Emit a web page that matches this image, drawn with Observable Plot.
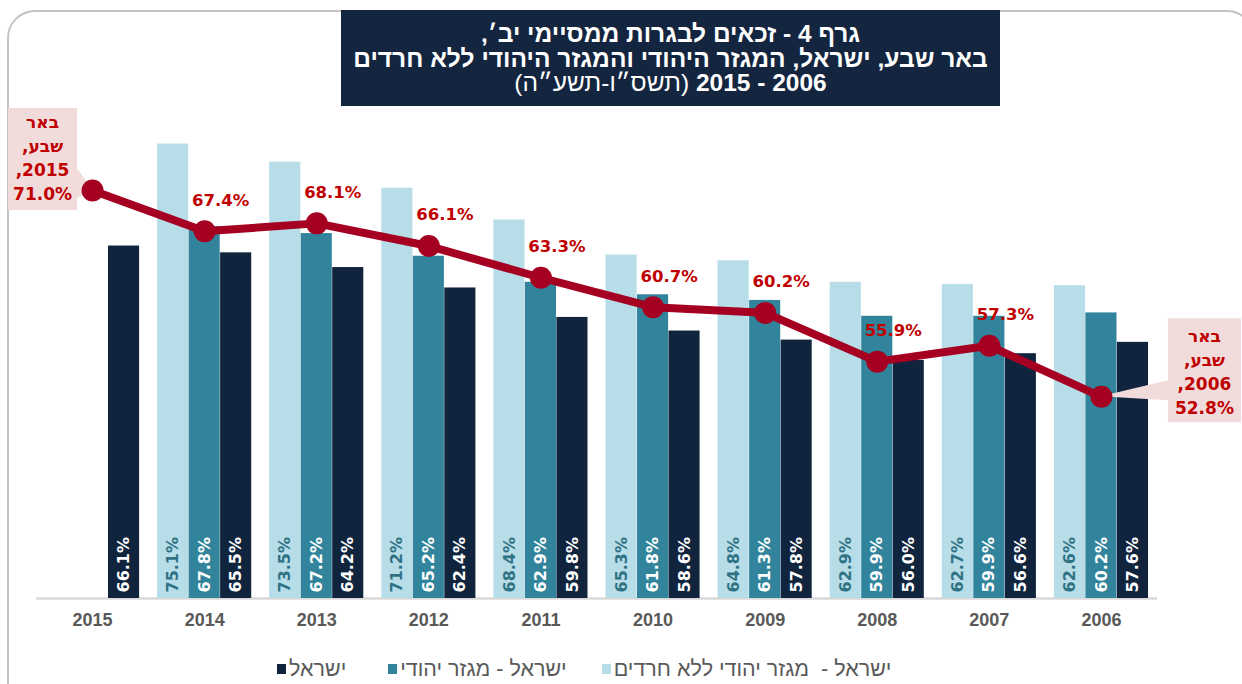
<!DOCTYPE html>
<html lang="he">
<head>
<meta charset="utf-8">
<script src="https://cdn.jsdelivr.net/npm/d3@7"></script>
<script src="https://cdn.jsdelivr.net/npm/@observablehq/plot@0.6"></script>
<style>
  html, body { margin: 0; padding: 0; background: #fff; }
  body { width: 1242px; height: 684px; overflow: hidden; position: relative;
         font-family: "Liberation Sans", "DejaVu Sans", sans-serif; }
  #frame { position: absolute; left: 7px; top: 10px; width: 1248px; height: 740px;
           border: 2px solid #c3c3c3; border-radius: 28px; box-sizing: border-box; }
  #chart { position: absolute; left: 0; top: 0; }
  #title { position: absolute; left: 341px; top: 10px; width: 659px; height: 96px;
           background: #13253f; color: #fff; text-align: center; direction: rtl;
           font-weight: bold; font-size: 24.5px; line-height: 24.5px; padding-top: 12px;
           box-sizing: border-box; }
  #title .light { font-weight: normal; }
  #legend { position: absolute; left: 277px; top: 655px; height: 28px; display: flex; align-items: center;
            font-size: 21.5px; line-height: 28px; color: #595959; white-space: pre; }
  #legend .item { display: flex; align-items: center; }
  #legend .sw { width: 9px; height: 10px; margin-right: 3px; }
  #legend .txt { direction: rtl; unicode-bidi: embed; }
</style>
</head>
<body>
<div id="frame"></div>
<div id="chart"></div>
<div id="title">
  <div>גרף 4 - זכאים לבגרות ממסיימי יב׳,</div>
  <div>באר שבע, ישראל, המגזר היהודי והמגזר היהודי ללא חרדים</div>
  <div>2006 - 2015 <span class="light">(תשס״ו-תשע״ה)</span></div>
</div>
<div id="legend"></div>
<script>
// ---- data ----
const years = [2015, 2014, 2013, 2012, 2011, 2010, 2009, 2008, 2007, 2006];
const noHaredi = [null, 75.1, 73.5, 71.2, 68.4, 65.3, 64.8, 62.9, 62.7, 62.6];
const jewish   = [null, 67.8, 67.2, 65.2, 62.9, 61.8, 61.3, 59.9, 59.9, 60.2];
const israel   = [66.1, 65.5, 64.2, 62.4, 59.8, 58.6, 57.8, 56.0, 56.6, 57.6];
const beerSheva = [71.0, 67.4, 68.1, 66.1, 63.3, 60.7, 60.2, 55.9, 57.3, 52.8];
const seriesNames = ["ישראל -  מגזר יהודי ללא חרדים", "ישראל - מגזר יהודי", "ישראל"];
const lineName = "באר שבע";

// ---- styling ----
const colors = ["#b7dde8", "#31849b", "#11243e"];
const labelColors = ["#2f7284", "#ffffff", "#ffffff"];
const offsets = [-31.5, 0, 31.5];
const lineColor = "#a50021";
const redText = "#c00000";
const yBase = 35;

const rows = years.map((year, i) => ({year, s0: noHaredi[i], s1: jewish[i], s2: israel[i], bs: beerSheva[i]}));

const barMarks = [];
["s0", "s1", "s2"].forEach((key, k) => {
  const data = rows.filter(d => d[key] != null);
  barMarks.push(Plot.barY(data, {
    x: "year", y1: yBase, y2: key, fill: colors[k],
    insetLeft: 40.5, insetRight: 40.5, dx: offsets[k]
  }));
  barMarks.push(Plot.text(data, {
    x: "year", y: yBase, text: d => d[key].toFixed(1) + "%",
    rotate: -90, textAnchor: "start", dx: offsets[k], dy: -6,
    fill: labelColors[k], fontSize: 16, fontWeight: "bold",
    fontFamily: "DejaVu Sans, sans-serif", letterSpacing: 0.6
  }));
});

// callout boxes for first and last points
function callouts(index, scales) {
  const g = d3.create("svg:g");
  const bw = scales.x.bandwidth ? scales.x.bandwidth() / 2 : 0;
  const ends = [{i: 0, side: "left"}, {i: years.length - 1, side: "right"}];
  for (const {i, side} of ends) {
    const px = scales.x(years[i]) + bw;
    const py = scales.y(beerSheva[i]);
    let box, wedge, cx, base;
    if (side === "left") {
      box = [px - 84, py - 82, 69, 102];
      wedge = [[px - 15, py - 22], [px, py], [px - 15, py + 8]];
      cx = px - 49.5; base = py - 62;
    } else {
      box = [px + 67, py - 78, 73, 104];
      wedge = [[px + 67, py - 16], [px, py], [px + 67, py + 4]];
      cx = px + 103.5; base = py - 54;
    }
    g.append("rect").attr("x", box[0]).attr("y", box[1]).attr("width", box[2]).attr("height", box[3])
      .attr("fill", "#f2dcdb");
    g.append("polygon").attr("points", wedge.map(p => p.join(",")).join(" ")).attr("fill", "#f2dcdb");
    const lines = [...lineName.split(" ").map((w, j, a) => j === a.length - 1 ? w + "," : w),
                   years[i] + ",", beerSheva[i].toFixed(1) + "%"];
    lines.forEach((t, j) => {
      g.append("text").attr("x", cx).attr("y", base + j * 24)
        .attr("text-anchor", "middle").attr("direction", "rtl")
        .style("direction", "rtl").style("unicode-bidi", "embed")
        .attr("fill", redText).attr("font-size", 17).attr("font-weight", "bold")
        .attr("font-family", "DejaVu Sans, sans-serif")
        .text(t);
    });
  }
  return g.node();
}

const chart = Plot.plot({
  width: 1242, height: 640,
  marginLeft: 36, marginRight: 85, marginTop: 88, marginBottom: 42,
  x: {type: "band", domain: years, padding: 0, round: false, tickSize: 0, tickPadding: 15,
      label: null, tickFormat: d => String(d)},
  y: {domain: [35, 80], axis: null},
  style: {fontFamily: "Liberation Sans, DejaVu Sans, sans-serif", fontSize: "18px", fontWeight: "bold",
          color: "#595959", background: "transparent", overflow: "visible"},
  marks: [
    Plot.ruleY([yBase], {stroke: "#d9d9d9", strokeWidth: 2.5}),
    ...barMarks,
    Plot.line(rows, {x: "year", y: "bs", stroke: lineColor, strokeWidth: 8}),
    callouts,
    Plot.dot(rows, {x: "year", y: "bs", r: 11, fill: lineColor}),
    Plot.text(rows.slice(1, -1), {
      x: "year", y: "bs", text: d => d.bs.toFixed(1) + "%", dx: 16, dy: -31,
      fill: redText, fontSize: 16.5, fontWeight: "bold", fontFamily: "DejaVu Sans, sans-serif"
    })
  ]
});
document.getElementById("chart").appendChild(chart);

// legend (visual order left to right: Israel, Jewish sector, Jewish sector w/o Haredim)
const legend = document.getElementById("legend");
const gaps = [42, 35, 0];
[2, 1, 0].forEach((k, n) => {
  const item = document.createElement("div");
  item.className = "item";
  item.style.marginRight = gaps[n] + "px";
  const sw = document.createElement("span");
  sw.className = "sw"; sw.style.background = colors[k];
  const txt = document.createElement("span");
  txt.className = "txt"; txt.textContent = seriesNames[k];
  item.appendChild(sw); item.appendChild(txt);
  legend.appendChild(item);
});
</script>
</body>
</html>
